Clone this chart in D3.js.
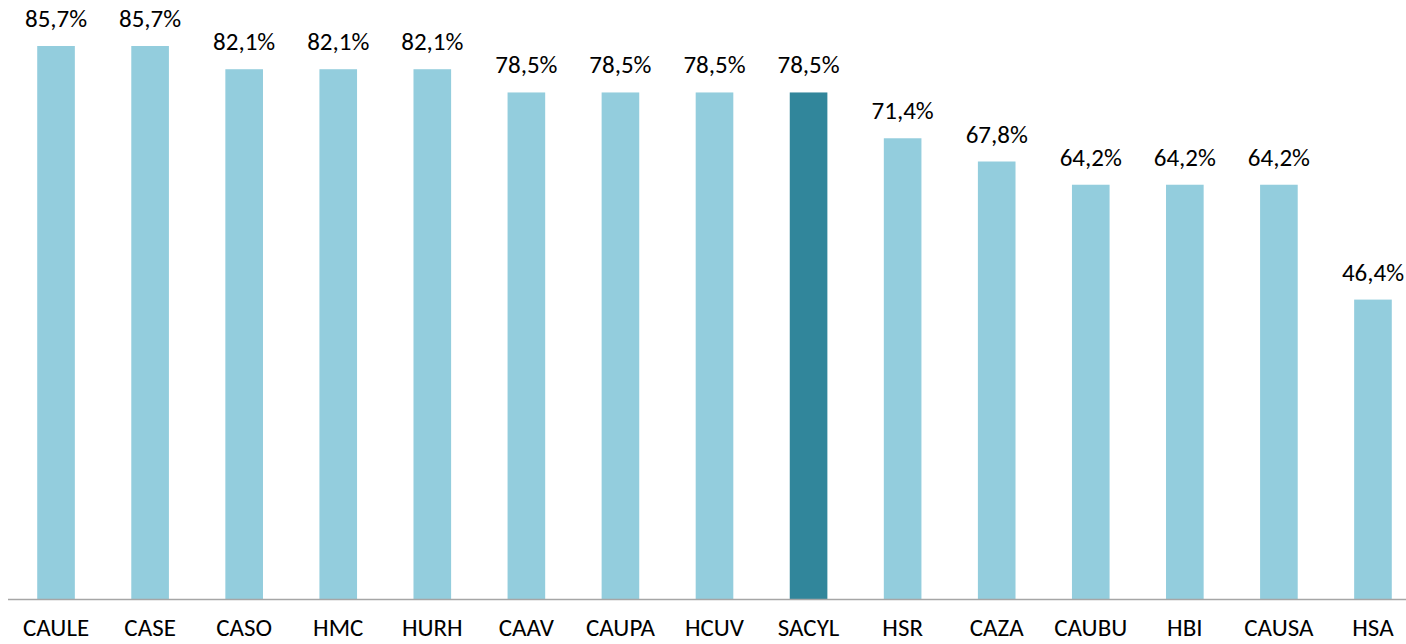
<!DOCTYPE html>
<html>
<head>
<meta charset="utf-8">
<script src="https://cdnjs.cloudflare.com/ajax/libs/d3/7.8.5/d3.min.js"></script>
<style>
  body { margin: 0; background: #fff; }
  text { font-family: Carlito, Calibri, Lato, sans-serif; fill: #000; }
</style>
</head>
<body>
<div id="chart"></div>
<script>
var categories = ["CAULE","CASE","CASO","HMC","HURH","CAAV","CAUPA","HCUV","SACYL","HSR","CAZA","CAUBU","HBI","CAUSA","HSA"];
var values = [85.7, 85.7, 82.1, 82.1, 82.1, 78.5, 78.5, 78.5, 78.5, 71.4, 67.8, 64.2, 64.2, 64.2, 46.4];
var highlight = "SACYL";

var width = 1406, height = 644;

var svg = d3.select("#chart")
    .append("svg")
        .attr("width", width)
        .attr("height", height);

var x = d3.scaleBand()
    .range([9, 1420])
    .domain(categories)
    .paddingInner(0.6)
    .paddingOuter(0.3);

var y = d3.scaleLinear()
    .domain([0, 85.7])
    .range([599, 46]);

// bars
svg.selectAll(".bar")
    .data(categories)
    .enter()
    .append("rect")
    .attr("class", "bar")
    .attr("x", function(d) { return x(d); })
    .attr("y", function(d, i) { return y(values[i]); })
    .attr("width", x.bandwidth())
    .attr("height", function(d, i) { return y(0) - y(values[i]); })
    .style("fill", function(d) { return d == highlight ? "#31869B" : "#93CDDD"; });

// axis line
svg.append("line")
    .attr("x1", 8).attr("x2", width)
    .attr("y1", y(0) + 0.5).attr("y2", y(0) + 0.5)
    .style("stroke", "#A6A6A6")
    .style("stroke-width", 1.5);

// value labels
svg.selectAll(".label")
    .data(categories)
    .enter()
    .append("text")
    .attr("class", "label")
    .attr("x", function(d) { return x(d) + x.bandwidth() / 2; })
    .attr("y", function(d, i) { return y(values[i]) - 19; })
    .attr("text-anchor", "middle")
    .style("font-size", "25px")
    .text(function(d, i) { return values[i].toFixed(1).replace(".", ",") + "%"; });

// category labels
svg.selectAll(".cat")
    .data(categories)
    .enter()
    .append("text")
    .attr("class", "cat")
    .attr("x", function(d) { return x(d) + x.bandwidth() / 2; })
    .attr("y", 636)
    .attr("text-anchor", "middle")
    .style("font-size", "25px")
    .text(function(d) { return d; });
</script>
</body>
</html>
